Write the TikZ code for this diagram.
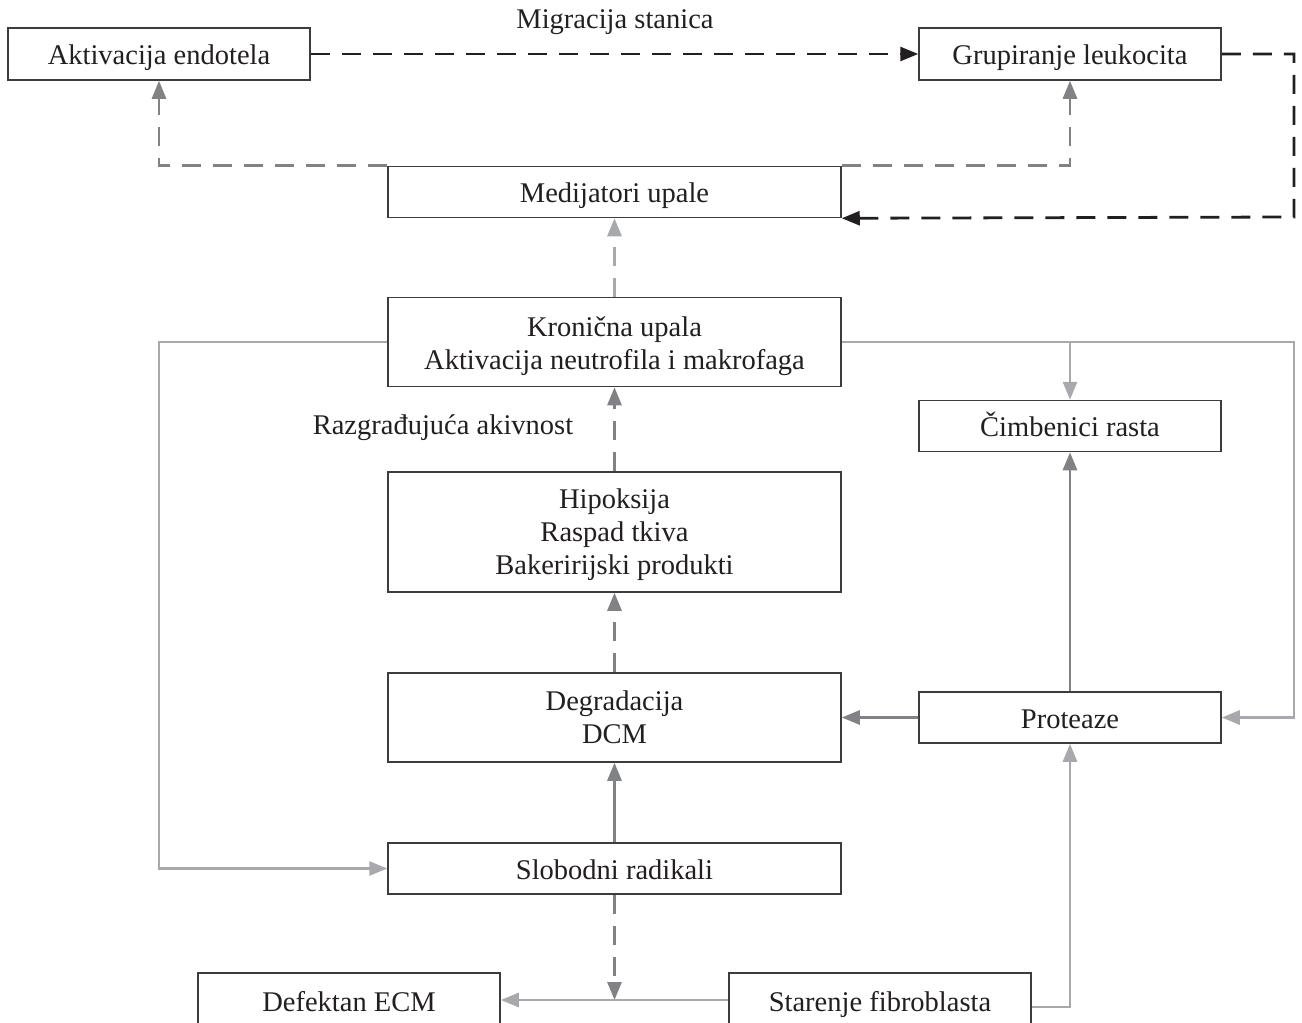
\documentclass[tikz,border=0pt]{standalone}
\usepackage{fontspec}
\setmainfont{Liberation Serif}
\usetikzlibrary{arrows.meta}
\definecolor{cblack}{HTML}{231F20}
\definecolor{cmed}{HTML}{808285}
\definecolor{clight}{HTML}{A7A9AC}
\definecolor{cbox}{HTML}{3C3C3C}
\begin{document}
\begin{tikzpicture}[x=1pt,y=-1pt,
 box/.style={draw=cbox,line width=1.5pt,fill=white,inner sep=0pt,align=center,font=\fontsize{28.5}{33}\selectfont,text=cblack},
 one/.style={text height=26pt,text depth=5pt},
 lbl/.style={inner sep=0pt,font=\fontsize{28.5}{33}\selectfont,text=cblack},
 conn/.style={line width=2.8pt,-{Triangle[length=18pt,width=14pt]}},
 dsh/.style={dash pattern=on 19pt off 12pt}]
\useasboundingbox (0,0) rectangle (1302,1023);
\clip (0,0) rectangle (1302,1023);
% nodes
\node[box,one,minimum width=302pt,minimum height=52pt] (akt) at (159,54) {Aktivacija endotela};
\node[box,one,minimum width=302pt,minimum height=52pt] (grup) at (1070,54) {Grupiranje leukocita};
\node[box,one,minimum width=453pt,minimum height=51pt] (med) at (614.5,192) {Medijatori upale};
\node[box,text height=60pt,text depth=6pt,minimum width=453pt,minimum height=89pt] (kron) at (614.5,342) {Kronična upala\\Aktivacija neutrofila i makrofaga};
\node[box,text height=91pt,text depth=6pt,minimum width=453pt,minimum height=120pt] (hip) at (614.5,532) {Hipoksija\\Raspad tkiva\\Bakeririjski produkti};
\node[box,minimum width=453pt,minimum height=89pt] (deg) at (614.5,717.5) {Degradacija\\DCM};
\node[box,one,minimum width=453pt,minimum height=51pt] (slob) at (614.5,868.5) {Slobodni radikali};
\node[box,one,minimum width=302pt,minimum height=51pt] (cimb) at (1070,426) {Čimbenici rasta};
\node[box,one,minimum width=302pt,minimum height=51pt] (prot) at (1070,717.5) {Proteaze};
\node[box,one,minimum width=302pt,minimum height=56pt] (def) at (349,1001) {Defektan ECM};
\node[box,one,minimum width=302pt,minimum height=56pt] (star) at (880,1001) {Starenje fibroblasta};
\node[lbl] (mig) at (615,22) {Migracija stanica};
\node[lbl] (razg) at (443,428) {Razgrađujuća akivnost};
% coordinates
\coordinate (rd) at (1294,217);
\coordinate (rk) at (1294,342);
\coordinate (lk) at (159,342);
\coordinate (j1) at (614.5,1000);
% connectors
\draw[conn,dsh,cblack] (akt.east) -- (grup.west);
\draw[conn,dsh,cblack] (grup.east) -| (rd) -- (med.south east);
\draw[conn,dsh,cmed] (med.north west) -| (akt.south);
\draw[conn,dsh,cmed] (med.north east) -| (grup.south);
\draw[conn,dsh,clight] (kron.north) -- (med.south);
\draw[conn,dsh,cmed] (hip.north) -- (kron.south);
\draw[conn,dsh,cmed] (deg.north) -- (hip.south);
\draw[conn,cmed] (slob.north) -- (deg.south);
\draw[conn,dsh,cmed] (slob.south) -- (j1);
\draw[conn,clight] (star.west |- j1) -- (def.east |- j1);
\draw[conn,clight] ([yshift=-6pt]star.east) -| (prot.south);
\draw[conn,cmed] (prot.north) -- (cimb.south);
\draw[conn,cmed] (prot.west) -- (deg.east);
\draw[conn,clight] (kron.east) -- (rk) |- (prot.east);
\draw[conn,clight] (cimb.north |- kron.east) -- (cimb.north);
\draw[conn,clight] (kron.west) -- (lk) |- (slob.west);
\end{tikzpicture}
\end{document}
